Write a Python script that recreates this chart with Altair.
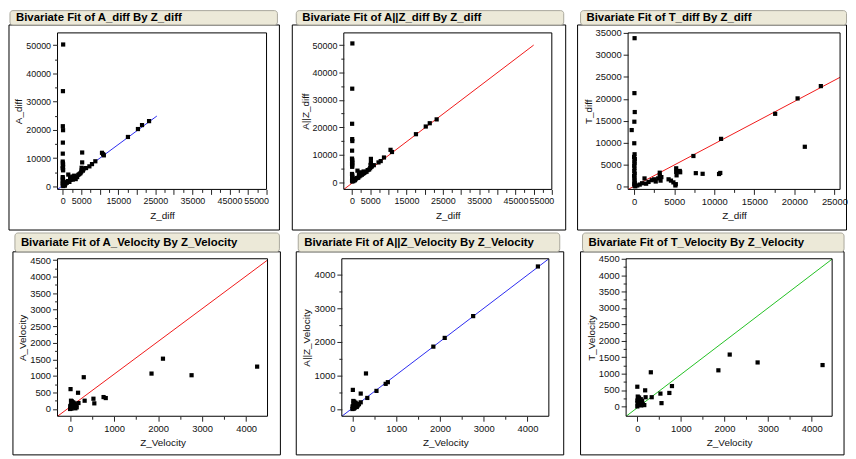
import altair as alt
import pandas as pd

FONT = "Liberation Sans"

# ---------------- data ----------------
# Panel 1: A_diff by Z_diff
p1_x = [120, 60, 30, 90, 40, 20, 0, 50, 100, 30, 80, 10, 60, 110,
        0, 40, 80, 20, 120, 60, 0, 100, 30, 150, 250, 350, 500, 700, 900, 600,
        1500, 1100, 1400, 1800, 2100, 2400, 2700, 3000, 3300, 3600, 3900, 4200, 4500, 4800,
        2000, 2600, 3100, 3500,
        5250, 5250, 5000, 5150, 5300, 5450, 5600, 5100,
        6300, 7200, 7900, 8800, 10600, 10900, 11100, 17600, 20300, 21400, 23300]
p1_y = [50200, 33700, 21300, 19900, 15500, 11600, 8800, 8300, 7800, 7300, 6900, 6500, 6100, 5700,
        3300, 2800, 2400, 2000, 1700, 1300, 1000, 700, 400, 150, 900, 500, 1200, 900, 1500, 300,
        4200, 1300, 1900, 1600, 2300, 2700, 2400, 3100, 2900, 3500, 3300, 4100, 4400, 4700,
        3200, 3500, 3800, 2600,
        12000, 8500, 5200, 5800, 6300, 5600, 6100, 6600,
        6500, 7100, 7900, 8900, 11900, 11400, 11000, 17500, 20300, 21700, 23100]
p1_line_x = [-1400, 25400]
p1_line_y = [-1050, 24900]

# Panel 2: A||Z_diff by Z_diff
p2_x = [100, 60, 30, 50, 80, 20, 0, 60, 30, 90, 10, 70, 40,
        0, 50, 20, 90, 30, 70, 10, 60, 250, 400, 600, 800,
        1500, 1000, 1300, 1700, 2000, 2300, 2700, 3000, 3300, 3600, 4000, 4300, 4700, 5000,
        1900, 2500, 3200,
        5200, 5200, 5100, 5350, 5500, 6000, 7300, 7900, 8800, 10600, 11000,
        17600, 20300, 21400, 23300]
p2_y = [50600, 34100, 21300, 15700, 15000, 11500, 8600, 8100, 7600, 7100, 6600, 6100, 5600,
        3000, 2600, 2200, 1800, 1400, 1000, 600, 250, 700, 400, 1000, 700,
        4200, 1100, 1500, 1600, 2100, 2400, 2700, 3100, 3300, 3600, 3800, 4400, 4600, 5100,
        2900, 3600, 3900,
        8500, 7000, 6300, 5600, 6000, 6200, 7200, 7700, 9000, 11800, 11000,
        17500, 20300, 21500, 22900]
p2_line_x = [-2260, 50000]
p2_line_y = [-2640, 50000]

# Panel 3: T_diff by Z_diff
p3_x = [60, 40, 80, 30, -300, 20, 60, 0, 90, 30, 70, 10, 50, 20, 80, 0, 60, 30, 90, 10, 50, 150,
        400, 700, 1000, 1300, 1500, 1800, 2200, 2500, 2700, 3000, 3200, 3200, 3400, 3300,
        4300, 4600, 4900, 5200, 5150, 5250, 5250, 5300, 5750, 5700,
        7400, 7700, 8550, 10600, 10750, 10850, 17600, 20400, 21300, 23300]
p3_y = [33800, 21300, 17000, 14800, 12900, 9900, 7400, 6800, 6300, 5800, 5300, 4800, 4200, 3600,
        3000, 2500, 2000, 1500, 1000, 600, 250, 100,
        300, 500, 800, 1900, 700, 1100, 1500, 1700, 1200, 1900, 2500, 3200, 2200, 1400,
        1700, 1400, 1000, 600, 300, 4200, 3400, 2600, 3300, 3600,
        7000, 3100, 2950, 2900, 3150, 10900, 16600, 20100, 9100, 22900]
p3_line_x = [-750, 25700]
p3_line_y = [-600, 24900]

# Panel 4: A_Velocity by Z_Velocity
p4_x = [10, 310, 180, 190, 330, 530, 550, 760, 810, 1850, 2110, 2760, 4250,
        0, 10, 20, 30, 40, 5, 50, 60, 80, 100, 120, 140, 30, 70, 90, 20, 150, 110]
p4_y = [600, 960, 490, 180, 250, 310, 170, 360, 330, 1070, 1520, 1020, 1280,
        0, 60, 120, 180, 230, 90, 40, 150, 100, 60, 20, 120, 10, 200, 170, 250, 50, 140]
p4_line_x = [-286, 4486]
p4_line_y = [-220, 4500]

# Panel 5: A||Z_Velocity by Z_Velocity
p5_x = [4240, 2760, 2110, 1850, 810, 760, 550, 340, 190, 310, 190, 10,
        0, 10, 20, 30, 40, 5, 50, 60, 80, 100, 120, 140, 30, 70, 90, 20, 150, 110]
p5_y = [4250, 2770, 2120, 1860, 800, 750, 540, 330, 200, 1060, 460, 570,
        0, 50, 110, 170, 220, 80, 30, 140, 90, 60, 110, 140, 10, 190, 160, 240, 150, 100]
p5_line_x = [-242, 4490]
p5_line_y = [-216, 4480]

# Panel 6: T_Velocity by Z_Velocity
p6_x = [0, 310, 180, 190, 330, 530, 555, 735, 795, 160, 1860, 2120, 2760, 4250,
        0, 10, 20, 30, 40, 5, 50, 60, 80, 100, 20, 70, 90, 110, 0, 40, 120]
p6_y = [600, 1040, 490, 280, 280, 390, 100, 410, 620, 40, 1100, 1580, 1340, 1260,
        0, 300, 250, 200, 150, 100, 50, 180, 220, 120, 60, 90, 30, 170, 180, 270, 80]
p6_line_x = [-257, 4470]
p6_line_y = [-300, 4490]

titles = ["Bivariate Fit of A_diff By Z_diff",
          "Bivariate Fit of A||Z_diff By Z_diff",
          "Bivariate Fit of T_diff By Z_diff",
          "Bivariate Fit of A_Velocity By Z_Velocity",
          "Bivariate Fit of A||Z_Velocity By Z_Velocity",
          "Bivariate Fit of T_Velocity By Z_Velocity"]


def ticks(a, b, s):
    return list(range(a, b + 1, s))


def axis_major(vals, title, orient, fs, label_expr=None, flush_off=0):
    kw = dict(values=vals, format="d", orient=orient, title=title, tickSize=5,
              tickColor="#222", tickWidth=1, domain=False, grid=False,
              labelFont=FONT, labelFontSize=fs, labelColor="#111", labelPadding=2,
              labelOverlap=False, titleFont=FONT, titleFontSize=10,
              titleFontWeight="normal", titleColor="#111",
              titlePadding=(5 if orient == "bottom" else 2), zindex=1)
    if label_expr:
        kw["labelExpr"] = label_expr
    if flush_off:
        kw["labelFlushOffset"] = flush_off
    return alt.Axis(**kw)


def axis_minor(vals, orient):
    if not vals:
        return None
    return alt.Axis(values=vals, orient=orient, labels=False, title=None, tickSize=3,
                    tickColor="#222", tickWidth=1, domain=False, grid=False, zindex=1)


def panel(cfg):
    W, H = cfg["W"], cfg["H"]
    one = alt.Data(values=[{"k": 1}])

    def box(b, **kw):
        x1, x2, y1, y2 = b
        return alt.Chart(one).mark_rect(**kw).encode(
            x=alt.value(x1), x2=alt.value(x2), y=alt.value(y1), y2=alt.value(y2))

    cell = box(cfg["cell"], opacity=0)
    frame = box(cfg["frame"], fill="white", fillOpacity=0, stroke="#000", strokeWidth=1)
    tab = box(cfg["tab"], fill="#ECE9D8", stroke="#A9A79C", strokeWidth=1, cornerRadius=3)
    tx1, tx2, ty1, ty2 = cfg["tab"]
    ttl = alt.Chart(one).mark_text(align="left", baseline="middle", font=FONT,
                                   fontSize=11.5, fontWeight="bold", color="#000").encode(
        x=alt.value(tx1 + 6), y=alt.value((ty1 + ty2) / 2 + 0.5), text=alt.value(cfg["title"]))
    plotbox = box((0, W, 0, H), fill="white", fillOpacity=0, stroke="#000", strokeWidth=1)

    xs = alt.Scale(domain=cfg["xdom"], nice=False, zero=False)
    ys = alt.Scale(domain=cfg["ydom"], nice=False, zero=False)

    pts = pd.DataFrame({"x": cfg["px"], "y": cfg["py"]})
    ln = pd.DataFrame({"x": cfg["lx"], "y": cfg["ly"]})
    fs = cfg["fs"]

    points = alt.Chart(pts).mark_square(size=18, color="#000", opacity=1).encode(
        x=alt.X("x:Q", scale=xs, axis=axis_major(cfg["xmaj"], cfg["xt"], "bottom", fs,
                                                 cfg.get("xexpr"), cfg.get("fo", 0))),
        y=alt.Y("y:Q", scale=ys, axis=axis_major(cfg["ymaj"], cfg["yt"], "left", fs)))
    line = alt.Chart(ln).mark_line(clip=True, color=cfg["lc"], strokeWidth=1).encode(
        x=alt.X("x:Q", scale=xs, axis=axis_minor(cfg["xmin"], "bottom")),
        y=alt.Y("y:Q", scale=ys, axis=axis_minor(cfg["ymin"], "left")))

    return alt.layer(cell, frame, tab, ttl, line, points, plotbox).properties(
        width=W, height=H).resolve_axis(x="independent", y="independent")


odd5000 = "(datum.value == 0 || datum.value % 10000 == 5000) ? datum.label : ''"
diff_xmaj = ticks(0, 55000, 5000)
diff_xmin = ticks(2500, 52500, 5000)
vel_xmaj = ticks(0, 4000, 1000)
vel_xmin = ticks(500, 4500, 1000)

cfgs = [
    dict(W=211, H=158, cell=(-50, 231, -23, 200), frame=(-49, 224, -8, 199), tab=(-48, 222, -22.5, -8),
         title=titles[0], px=p1_x, py=p1_y, lx=p1_line_x, ly=p1_line_y, lc="#2B2BF0", fs=9, fo=2,
         xdom=[-1400, 55000], ydom=[-1050, 54300], xmaj=diff_xmaj, xmin=diff_xmin, xexpr=odd5000,
         ymaj=ticks(0, 50000, 10000), ymin=ticks(5000, 45000, 10000),
         xt="Z_diff", yt="A_diff"),
    dict(W=210, H=158, cell=(-58, 230, -23, 200), frame=(-52, 224, -8, 199), tab=(-48, 222, -22.5, -8),
         title=titles[1], px=p2_x, py=p2_y, lx=p2_line_x, ly=p2_line_y, lc="#F01818", fs=9, fo=2,
         xdom=[-2260, 55000], ydom=[-2640, 54440], xmaj=diff_xmaj, xmin=diff_xmin, xexpr=odd5000,
         ymaj=ticks(0, 50000, 10000), ymin=ticks(5000, 45000, 10000),
         xt="Z_diff", yt="A||Z_diff"),
    dict(W=214, H=158, cell=(-57, 221, -23, 200), frame=(-51, 220.5, -8, 199), tab=(-48, 220.5, -22.5, -8),
         title=titles[2], px=p3_x, py=p3_y, lx=p3_line_x, ly=p3_line_y, lc="#F01818", fs=9.5,
         xdom=[-750, 25700], ydom=[-600, 35000], xmaj=ticks(0, 25000, 5000), xmin=ticks(2500, 22500, 5000),
         ymaj=ticks(0, 35000, 5000), ymin=[],
         xt="Z_diff", yt="T_diff"),
    dict(W=212, H=159, cell=(-50, 234, -28, 199), frame=(-45, 225, -7, 198), tab=(-43, 224, -26, -7),
         title=titles[3], px=p4_x, py=p4_y, lx=p4_line_x, ly=p4_line_y, lc="#F01818", fs=9.5,
         xdom=[-286, 4486], ydom=[-220, 4540], xmaj=vel_xmaj, xmin=vel_xmin,
         ymaj=ticks(0, 4500, 500), ymin=ticks(250, 4250, 500),
         xt="Z_Velocity", yt="A_Velocity"),
    dict(W=209, H=159, cell=(-53, 233, -28, 199), frame=(-46, 224, -7, 198), tab=(-44, 220, -26, -7),
         title=titles[4], px=p5_x, py=p5_y, lx=p5_line_x, ly=p5_line_y, lc="#2B2BF0", fs=9.5,
         xdom=[-242, 4490], ydom=[-216, 4480], xmaj=vel_xmaj, xmin=vel_xmin,
         ymaj=ticks(0, 4000, 1000), ymin=ticks(500, 4000, 1000),
         xt="Z_Velocity", yt="A||Z_Velocity"),
    dict(W=208, H=159, cell=(-54, 223, -28, 199), frame=(-46, 220, -7, 198), tab=(-44, 220, -26, -7),
         title=titles[5], px=p6_x, py=p6_y, lx=p6_line_x, ly=p6_line_y, lc="#22C022", fs=9.5,
         xdom=[-257, 4470], ydom=[-300, 4500], xmaj=vel_xmaj, xmin=vel_xmin,
         ymaj=ticks(0, 4500, 500), ymin=ticks(250, 4250, 500),
         xt="Z_Velocity", yt="T_Velocity"),
]

panels = [panel(c) for c in cfgs]
row1 = alt.hconcat(panels[0], panels[1], panels[2], spacing=0)
row2 = alt.hconcat(panels[3], panels[4], panels[5], spacing=0)
chart = alt.vconcat(row1, row2, spacing=0).configure_view(stroke=None).properties(
    padding=0, background="white")

chart.save("out.html", embed_options={"renderer": "svg", "actions": False})
